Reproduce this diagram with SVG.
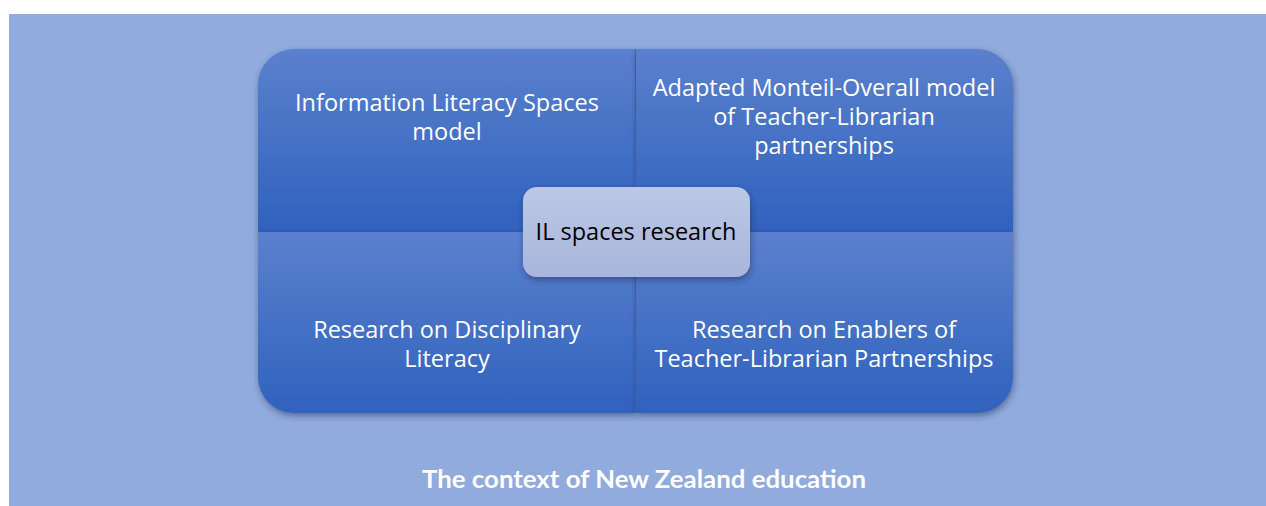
<svg xmlns="http://www.w3.org/2000/svg" width="1266" height="506" viewBox="0 0 1266 506">
<style>
.q{fill:url(#qg);filter:url(#sh)}
.qt{font-family:"Open Sans","Liberation Sans",sans-serif;font-size:23.5px;fill:#ffffff;text-anchor:middle}
.ct{font-family:"Open Sans","Liberation Sans",sans-serif;font-size:23.5px;fill:#000000;text-anchor:middle}
.cap{font-family:"Lato","Liberation Sans",sans-serif;font-size:25px;font-weight:bold;fill:#ffffff;text-anchor:middle}
.dv{stroke:#2a4f9a;stroke-width:1.2;opacity:0.6}
</style>
<defs>
<linearGradient id="qg" x1="0" y1="0" x2="0" y2="1">
<stop offset="0" stop-color="#5b80cd"/>
<stop offset="1" stop-color="#2f62bd"/>
</linearGradient>
<linearGradient id="cg" x1="0" y1="0" x2="0" y2="1">
<stop offset="0" stop-color="#bcc8e6"/>
<stop offset="1" stop-color="#a8b6dc"/>
</linearGradient>
<filter id="sh" x="-10%" y="-10%" width="120%" height="130%">
<feDropShadow dx="1" dy="3" stdDeviation="3" flood-color="#1a2a55" flood-opacity="0.5"/>
</filter>
</defs>
<rect x="0" y="0" width="1266" height="506" fill="#ffffff"/>
<rect x="9" y="14" width="1257" height="492" fill="#91abdc"/>
<g id="q-tl">
<path class="q" d="M258,85 A36,36 0 0 1 294,49 L635,49 L635,232 L258,232 Z"/>
<text class="qt" x="447" y="111">Information Literacy Spaces</text>
<text class="qt" x="447" y="140">model</text>
</g>
<g id="q-tr">
<path class="q" d="M636,49 L977,49 A36,36 0 0 1 1013,85 L1013,232 L636,232 Z"/>
<text class="qt" x="824" y="96">Adapted Monteil-Overall model</text>
<text class="qt" x="824" y="125">of Teacher-Librarian</text>
<text class="qt" x="824" y="154">partnerships</text>
</g>
<g id="q-bl">
<path class="q" d="M258,232 L635,232 L635,413 L294,413 A36,36 0 0 1 258,377 Z"/>
<text class="qt" x="447" y="338">Research on Disciplinary</text>
<text class="qt" x="447" y="367">Literacy</text>
</g>
<g id="q-br">
<path class="q" d="M636,232 L1013,232 L1013,377 A36,36 0 0 1 977,413 L636,413 Z"/>
<text class="qt" x="824" y="338">Research on Enablers of</text>
<text class="qt" x="824" y="367">Teacher-Librarian Partnerships</text>
</g>
<g id="connectors">
<line class="dv" x1="635.5" y1="49" x2="635.5" y2="413"/>
</g>
<g id="center">
<rect x="523" y="187" width="227" height="90" rx="14" fill="url(#cg)" filter="url(#sh)"/>
<text class="ct" x="636" y="240">IL spaces research</text>
</g>
<g id="caption">
<text class="cap" x="644" y="488" textLength="444" lengthAdjust="spacingAndGlyphs">The context of New Zealand education</text>
</g>
</svg>
